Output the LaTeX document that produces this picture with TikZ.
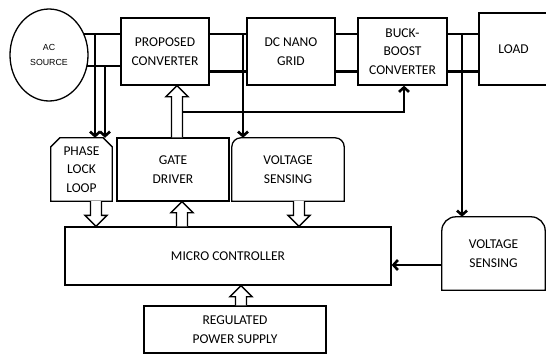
\documentclass[tikz,border=0pt]{standalone}
\usepackage{fontspec}
\setmainfont{Carlito}
\newfontfamily\acfont{Liberation Sans}
\usetikzlibrary{arrows.meta,shapes.geometric,calc}

\newcommand\hollowarr[2]{%
  \draw[hollowst] let \p1=(#1), \p2=(#2), \n1={sign(\y2-\y1)} in
    (\x1-5.5pt,\y1) -- (\x1-5.5pt,\y2-\n1*11pt) -- (\x1-11pt,\y2-\n1*11pt) -- (\x1,\y2)
    -- (\x1+11pt,\y2-\n1*11pt) -- (\x1+5.5pt,\y2-\n1*11pt) -- (\x1+5.5pt,\y1);}

\begin{document}
\begin{tikzpicture}[x=1pt,y=-1pt,
  box/.style={draw,line width=1.3pt,inner sep=0pt,align=center,
    font=\fontsize{13.5}{18.5}\selectfont},
  plain/.style={inner sep=0pt,align=center,font=\fontsize{13.5}{18.5}\selectfont},
  outline/.style={line width=1.3pt},
  wire/.style={line width=2.6pt},
  arr/.style={wire,-{Straight Barb[length=4.5pt,width=10pt]}},
  hollowst/.style={draw,line width=1.3pt,fill=white,line join=miter}]
\useasboundingbox (0,0) rectangle (546,354);

% top row
\node[ellipse,draw,line width=1.3pt,minimum width=78pt,minimum height=92pt,inner sep=0pt,
  align=center,font=\acfont\fontsize{8.8}{15}\selectfont] (ac) at (49,55) {AC\\SOURCE};
\node[box,minimum width=88pt,minimum height=67pt] (pc) at (165,51.5) {PROPOSED\\CONVERTER};
\node[box,minimum width=88pt,minimum height=67pt] (dc) at (291,51.5) {DC NANO\\GRID};
\node[box,minimum width=89pt,minimum height=67pt] (bb) at (402.5,51.5) {BUCK-\\BOOST\\CONVERTER};
\node[box,minimum width=69pt,minimum height=72pt] (load) at (513.5,49) {LOAD};

% middle row
\node[plain,minimum width=61pt,minimum height=63pt] (pll) at (81.5,169.5) {PHASE\\LOCK\\LOOP};
\draw[outline] (pll.south west) -- ($(pll.north west)+(0,9)$) -- ($(pll.north west)+(9,0)$)
  -- ($(pll.north east)+(-9,0)$) -- ($(pll.north east)+(0,9)$) -- (pll.south east) -- cycle;
\node[box,minimum width=112pt,minimum height=63pt] (gd) at (173,169.5) {GATE\\DRIVER};
\node[plain,minimum width=112pt,minimum height=63pt] (vs1) at (288,169.5) {VOLTAGE\\SENSING};
\draw[outline] (vs1.south west) -- ($(vs1.north west)+(0,9)$) arc[start angle=180,end angle=90,radius=9pt]
  -- ($(vs1.north east)+(-9,0)$) arc[start angle=90,end angle=0,radius=9pt] -- (vs1.south east) -- cycle;

% bottom
\node[box,minimum width=326pt,minimum height=58pt] (mc) at (228,256) {MICRO CONTROLLER};
\node[plain,minimum width=103pt,minimum height=73pt] (vs2) at (493.5,253.5) {VOLTAGE\\SENSING};
\draw[outline] (vs2.south west) -- ($(vs2.north west)+(0,14)$) arc[start angle=180,end angle=90,radius=14pt]
  -- ($(vs2.north east)+(-14,0)$) arc[start angle=90,end angle=0,radius=14pt] -- (vs2.south east) -- cycle;
\node[box,minimum width=182pt,minimum height=47pt] (rps) at (235,329.5) {REGULATED\\POWER SUPPLY};

% helper coordinates
\coordinate (acu) at (84,34);
\coordinate (acl) at (87,66);
\coordinate (up) at (0,34);
\coordinate (lo) at (0,71.5);
\coordinate (d1) at (95,34);
\coordinate (d2) at (105,66);
\coordinate (d3) at (243,34);
\coordinate (d4) at (462,34);
\coordinate (x96) at (96,0);
\coordinate (x182) at (182,0);
\coordinate (x177) at (177,0);
\coordinate (x299) at (299,0);
\coordinate (x241) at (241,0);
\coordinate (gl) at (182.5,112);
\coordinate (gr) at (404,112);
\coordinate (y265) at (0,265);

% power wires
\draw[wire] (acu) -- (acu -| pc.west);
\draw[wire] (acl) -- (acl -| pc.west);
\draw[wire] (pc.east |- up) -- (dc.west |- up);
\draw[wire] (pc.east |- lo) -- (dc.west |- lo);
\draw[wire] (dc.east |- up) -- (bb.west |- up);
\draw[wire] (dc.east |- lo) -- (bb.west |- lo);
\draw[wire] (bb.east |- up) -- (load.west |- up);
\draw[wire] (bb.east |- lo) -- (load.west |- lo);

% sensing arrows
\draw[arr] (d1) -- (d1 |- pll.north);
\draw[arr] (d2) -- (d2 |- pll.north);
\draw[arr] (d3) -- (d3 |- vs1.north);
\draw[arr] (d4) -- (d4 |- vs2.north);
\draw[arr] (gl) -- (gr) -- (gr |- bb.south);
\draw[arr] (vs2.west |- y265) -- (mc.east |- y265);

% hollow arrows
\hollowarr{pll.south -| x96}{mc.north -| x96}
\hollowarr{mc.north -| x182}{gd.south -| x182}
\hollowarr{gd.north -| x177}{pc.south -| x177}
\hollowarr{vs1.south -| x299}{mc.north -| x299}
\hollowarr{rps.north -| x241}{mc.south -| x241}
\end{tikzpicture}
\end{document}
